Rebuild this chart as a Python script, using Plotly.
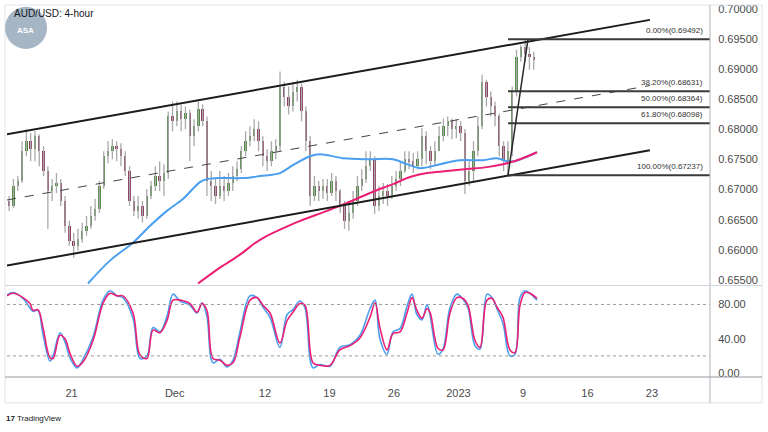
import plotly.graph_objects as go

# ---------------- DATA ----------------
# 8-hour candles; x axis = trading-day index (weekends removed), day 0 = 14 Nov 2022
first_open = 0.66811
close = [0.66728, 0.67058, 0.67141, 0.67636, 0.67801, 0.67669, 0.67883, 0.67636, 0.67306,
         0.66976, 0.67058, 0.67108, 0.66811, 0.66398, 0.66151, 0.66068, 0.66184, 0.66316,
         0.66398, 0.66563, 0.66679, 0.67058, 0.67553, 0.67636, 0.67718, 0.67669, 0.67553,
         0.67306, 0.66811, 0.66646, 0.66728, 0.66563, 0.66893, 0.67058, 0.67223, 0.67141,
         0.67273, 0.68213, 0.68131, 0.68296, 0.68164, 0.68263, 0.67883, 0.68048, 0.68328,
         0.68131, 0.67141, 0.67058, 0.66893, 0.67058, 0.66976, 0.67108, 0.67223, 0.67338,
         0.67636, 0.67801, 0.67883, 0.67999, 0.67801, 0.67553, 0.67471, 0.67636, 0.67718,
         0.68708, 0.68543, 0.68378, 0.68625, 0.68708, 0.68296, 0.67801, 0.66893, 0.67058,
         0.66976, 0.67058, 0.66943, 0.67141, 0.66976, 0.66728, 0.66481, 0.66613, 0.66811,
         0.67058, 0.67173, 0.67388, 0.67503, 0.66728, 0.66893, 0.66976, 0.66893, 0.67058,
         0.67173, 0.67306, 0.67503, 0.67471, 0.67388, 0.67503, 0.67883, 0.67636, 0.67471,
         0.67636, 0.67883, 0.68048, 0.68131, 0.67999, 0.68048, 0.67933, 0.67141, 0.67306,
         0.67636, 0.68048, 0.68790, 0.68543, 0.68378, 0.68213, 0.67718, 0.67471, 0.67636,
         0.68625, 0.69203, 0.69368, 0.69253, 0.69203, 0.69153]
high = [0.66893, 0.67173, 0.67223, 0.67801, 0.67999, 0.67933, 0.67966, 0.67916, 0.67718,
        0.67388, 0.67173, 0.67273, 0.67173, 0.66893, 0.66481, 0.66283, 0.66349, 0.66448,
        0.66563, 0.66728, 0.66843, 0.67141, 0.67636, 0.67801, 0.67834, 0.67801, 0.67768,
        0.67636, 0.67388, 0.66893, 0.66893, 0.66811, 0.67008, 0.67141, 0.67388, 0.67471,
        0.67421, 0.68296, 0.68461, 0.68461, 0.68411, 0.68378, 0.68328, 0.68164, 0.68461,
        0.68411, 0.68213, 0.67306, 0.67173, 0.67306, 0.67223, 0.67273, 0.67388, 0.67471,
        0.67718, 0.67966, 0.68048, 0.68164, 0.68131, 0.67883, 0.67669, 0.67801, 0.67834,
        0.68956, 0.68790, 0.68708, 0.68790, 0.68823, 0.68757, 0.68378, 0.67883, 0.67223,
        0.67141, 0.67173, 0.67173, 0.67273, 0.67223, 0.67008, 0.66811, 0.66811, 0.66976,
        0.67223, 0.67338, 0.67636, 0.67636, 0.67553, 0.67058, 0.67108, 0.67091, 0.67223,
        0.67306, 0.67471, 0.67636, 0.67636, 0.67603, 0.67636, 0.68015, 0.67966, 0.67718,
        0.67801, 0.68048, 0.68180, 0.68213, 0.68180, 0.68164, 0.68131, 0.67999, 0.67471,
        0.67801, 0.68213, 0.68906, 0.68823, 0.68625, 0.68461, 0.68263, 0.67801, 0.67801,
        0.68708, 0.69318, 0.69401, 0.69492, 0.69368, 0.69285]
low = [0.66646, 0.66695, 0.66976, 0.67108, 0.67553, 0.67471, 0.67471, 0.67388, 0.67223,
       0.66349, 0.66811, 0.66943, 0.66728, 0.66283, 0.66068, 0.65870, 0.65986, 0.66118,
       0.66233, 0.66349, 0.66481, 0.66613, 0.67008, 0.67438, 0.67503, 0.67471, 0.67388,
       0.67223, 0.66728, 0.66563, 0.66514, 0.66448, 0.66514, 0.66843, 0.66976, 0.66976,
       0.66893, 0.67173, 0.67966, 0.68048, 0.67966, 0.67999, 0.67471, 0.67718, 0.67966,
       0.68048, 0.66893, 0.66811, 0.66761, 0.66843, 0.66811, 0.66893, 0.66976, 0.67141,
       0.67273, 0.67553, 0.67718, 0.67801, 0.67636, 0.67388, 0.67306, 0.67388, 0.67503,
       0.67636, 0.68378, 0.68246, 0.68296, 0.68461, 0.68131, 0.67636, 0.66728, 0.66811,
       0.66811, 0.66843, 0.66811, 0.66893, 0.66811, 0.66613, 0.66349, 0.66316, 0.66514,
       0.66728, 0.66976, 0.67108, 0.67306, 0.66596, 0.66646, 0.66761, 0.66728, 0.66843,
       0.66976, 0.67058, 0.67273, 0.67338, 0.67273, 0.67338, 0.67388, 0.67421, 0.67338,
       0.67388, 0.67636, 0.67801, 0.67883, 0.67834, 0.67850, 0.67801, 0.66926, 0.67058,
       0.67141, 0.67553, 0.67999, 0.68378, 0.68213, 0.68048, 0.67553, 0.67306, 0.67237,
       0.67553, 0.68543, 0.69121, 0.69121, 0.68988, 0.68988]

# moving averages (blue ~100, pink ~200)
ma_blue_day = [6.28, 7.98, 9.77, 11.09, 12.40, 13.64, 14.96, 15.50, 16.28, 18.29, 19.61, 21.16,
               22.17, 23.49, 24.26, 26.05, 28.14, 29.92, 31.01, 32.02, 33.57, 35.12, 36.90,
               37.98, 38.76, 39.38, 40.0, 41.09]
ma_blue_val = [0.65441, 0.65821, 0.66118, 0.66398, 0.66646, 0.66843, 0.67124, 0.67173, 0.67190,
               0.67190, 0.67223, 0.67273, 0.67405, 0.67553, 0.67586, 0.67520, 0.67503, 0.67503,
               0.67421, 0.67355, 0.67421, 0.67487, 0.67487, 0.67520, 0.67471, 0.67471, 0.67520,
               0.67619]
ma_pink_day = [14.81, 16.51, 18.06, 19.61, 22.17, 24.81, 26.36, 28.14, 29.92, 31.24, 32.56,
               34.11, 35.66, 37.21, 38.45, 39.77, 41.09]
ma_pink_val = [0.65441, 0.65705, 0.65920, 0.66167, 0.66431, 0.66646, 0.66778, 0.66943, 0.67091,
               0.67207, 0.67273, 0.67306, 0.67339, 0.67372, 0.67421, 0.67503, 0.67619]

# stochastic oscillator
stoch_day = [0.00, 0.47, 1.24, 1.78, 2.02, 2.40, 2.79, 3.33, 3.57, 4.11, 4.50, 4.88, 5.43, 5.89,
             6.67, 7.44, 7.98, 8.53, 8.99, 9.77, 10.31, 10.85, 11.32, 11.86, 12.40, 12.87,
             13.41, 14.19, 14.73, 15.12, 15.50, 15.97, 16.51, 17.05, 17.52, 18.06, 18.84,
             19.38, 19.84, 20.39, 21.16, 21.71, 22.17, 22.71, 23.10, 23.72, 24.26, 25.04,
             25.81, 26.59, 27.36, 28.14, 28.53, 28.91, 29.46, 29.92, 30.47, 31.01, 31.40,
             31.78, 32.17, 32.56, 32.79, 33.41, 33.80, 34.34, 34.88, 35.35, 35.74, 36.28,
             36.67, 37.21, 37.60, 37.98, 38.45, 38.99, 39.38, 39.77, 40.16, 40.54, 41.09]
stoch_d = [90, 93, 88, 81, 73, 74, 53, 18, 17, 44, 40, 23, 8, 13, 38, 81, 93, 90, 90, 70, 21, 17,
           50, 47, 61, 85, 85, 81, 71, 81, 73, 17, 15, 9, 12, 42, 85, 88, 79, 70, 35, 61, 71, 81,
           79, 12, 9, 9, 27, 32, 41, 65, 82, 53, 27, 46, 48, 70, 88, 73, 64, 75, 71, 29, 27, 70,
           88, 87, 79, 38, 30, 85, 87, 77, 65, 27, 24, 79, 94, 93, 87]
stoch_k = [91, 94, 87, 76, 72, 73, 45, 14, 20, 47, 36, 18, 6, 16, 42, 85, 96, 90, 88, 64, 17, 20,
           53, 48, 66, 92, 84, 79, 70, 82, 66, 12, 16, 7, 15, 48, 90, 88, 77, 65, 30, 68, 74, 84,
           76, 6, 10, 8, 30, 33, 44, 75, 85, 40, 22, 48, 52, 78, 92, 68, 62, 80, 68, 22, 28, 76,
           92, 86, 76, 32, 28, 92, 88, 75, 58, 20, 22, 88, 96, 93, 85]

# drawings
channel_upper = [(0.0, 0.67916), (49.84, 0.69814)]
channel_lower = [(0.0, 0.65738), (49.84, 0.67652)]
channel_mid = [(0.0, 0.66827), (49.84, 0.68725)]
fib_pct = [0.0, 38.2, 50.0, 61.8, 100.0]
fib_val = [0.69492, 0.68631, 0.68364, 0.68098, 0.67237]
fib_start_day = 38.84
fib_high_day = 40.39

price_ticks = [0.655, 0.660, 0.665, 0.670, 0.675, 0.680, 0.685, 0.690, 0.695, 0.700]
stoch_ticks = [0, 40, 80]
x_tick_days = [5, 13, 20, 25, 30, 35, 40, 45, 50]
x_tick_text = ["21", "Dec", "12", "19", "26", "2023", "9", "16", "23"]

# ---------------- FIGURE ----------------
FONT = "Liberation Sans, Arial, sans-serif"
X_RANGE = [0, 54.5]
GREEN = "#4c8a3e"
MAROON = "#8e3b5f"

n = len(close)
open_ = [first_open] + close[:-1]
bar_x = [i / 3 + 1 / 6 for i in range(n)]

fig = go.Figure()

wx, wy = [], []
for xi, lo, hi in zip(bar_x, low, high):
    wx += [xi, xi, None]
    wy += [lo, hi, None]
fig.add_trace(go.Scatter(x=wx, y=wy, mode="lines", line=dict(color="#a9a9a9", width=1.3),
                         hoverinfo="skip", showlegend=False, xaxis="x", yaxis="y"))

base = [min(o, c) for o, c in zip(open_, close)]
height = [max(abs(c - o), 0.00006) for o, c in zip(open_, close)]
colors = [GREEN if c >= o else MAROON for o, c in zip(open_, close)]
fig.add_trace(go.Bar(x=bar_x, y=height, base=base, width=0.18, marker=dict(color=colors, line=dict(width=0)),
                     showlegend=False, xaxis="x", yaxis="y"))

fig.add_trace(go.Scatter(x=ma_blue_day, y=ma_blue_val, mode="lines",
                         line=dict(color="#4a9ff0", width=2, shape="spline"), showlegend=False,
                         xaxis="x", yaxis="y"))
fig.add_trace(go.Scatter(x=ma_pink_day, y=ma_pink_val, mode="lines",
                         line=dict(color="#ec1f74", width=2, shape="spline"), showlegend=False,
                         xaxis="x", yaxis="y"))

fig.add_trace(go.Scatter(x=stoch_day, y=stoch_k, mode="lines",
                         line=dict(color="#4a9ff0", width=1.6, shape="spline"), showlegend=False,
                         xaxis="x2", yaxis="y2"))
fig.add_trace(go.Scatter(x=stoch_day, y=stoch_d, mode="lines",
                         line=dict(color="#ec1f74", width=1.6, shape="spline"), showlegend=False,
                         xaxis="x2", yaxis="y2"))

shapes = []
for seg, dash, w, col in [(channel_upper, "solid", 2, "#1b1b1b"), (channel_lower, "solid", 2, "#1b1b1b"),
                          (channel_mid, "dash", 1, "#444444")]:
    shapes.append(dict(type="line", xref="x", yref="y", x0=seg[0][0], y0=seg[0][1],
                       x1=seg[1][0], y1=seg[1][1], line=dict(color=col, width=w, dash=dash)))
for v in fib_val:
    shapes.append(dict(type="line", xref="x", yref="y", x0=fib_start_day, x1=X_RANGE[1], y0=v, y1=v,
                       line=dict(color="#3a3a3a", width=2)))
shapes.append(dict(type="line", xref="x", yref="y", x0=fib_start_day, y0=fib_val[-1],
                   x1=fib_high_day, y1=fib_val[0], line=dict(color="#2a2a2a", width=1.5)))
for lvl in [80, 20]:
    shapes.append(dict(type="line", xref="x2", yref="y2", x0=X_RANGE[0], x1=X_RANGE[1], y0=lvl, y1=lvl,
                       line=dict(color="#9a9a9a", width=1, dash="dot")))
# frame lines (paper coords)
shapes += [
    dict(type="rect", xref="paper", yref="paper", x0=-0.0028, x1=1.074, y0=-0.0695, y1=1.0,
         line=dict(color="#e0e3eb", width=1)),
    dict(type="line", xref="paper", yref="paper", x0=1.0, x1=1.0, y0=-0.0695, y1=1.0,
         line=dict(color="#b2b5be", width=1)),
    dict(type="line", xref="paper", yref="paper", x0=-0.0028, x1=1.074, y0=0.0, y1=0.0,
         line=dict(color="#9598a1", width=1)),
    dict(type="line", xref="paper", yref="paper", x0=-0.0028, x1=1.074, y0=0.246, y1=0.246,
         line=dict(color="#d1d4dc", width=1)),
    dict(type="circle", xref="paper", yref="paper", x0=-0.0028, x1=0.0569, y0=0.882, y1=0.995,
         fillcolor="#a7b6c5", line=dict(width=0), layer="above"),
]

annotations = []
for p, v in zip(fib_pct, fib_val):
    annotations.append(dict(xref="x", yref="y", x=54.1, y=v, xanchor="right", yanchor="bottom",
                            yshift=2, showarrow=False, text=f"{p:.2f}%({v:.5f})",
                            font=dict(family=FONT, size=8, color="#333333")))
annotations += [
    dict(xref="paper", yref="paper", x=0.027, y=0.932, xanchor="center", yanchor="middle",
         showarrow=False, text="<b>ASA</b>", font=dict(family=FONT, size=8, color="white")),
    dict(xref="paper", yref="paper", x=0.0071, y=0.976, xanchor="left", yanchor="middle",
         showarrow=False, text="AUD/USD: 4-hour", font=dict(family=FONT, size=10, color="#131722")),
    dict(xref="paper", yref="paper", x=-0.004, y=-0.112, xanchor="left", yanchor="middle",
         showarrow=False, text="<b>17</b> TradingView", font=dict(family=FONT, size=8, color="#131722")),
]

fig.update_layout(
    width=768, height=432, margin=dict(l=7, r=58, t=3, b=55),
    paper_bgcolor="white", plot_bgcolor="white", showlegend=False, bargap=0,
    font=dict(family=FONT, size=11, color="#4a4a4a"),
    shapes=shapes, annotations=annotations, hovermode=False,
    xaxis=dict(domain=[0, 1], anchor="y", range=X_RANGE, showgrid=False, zeroline=False,
               showticklabels=False, showline=False),
    xaxis2=dict(domain=[0, 1], anchor="y2", range=X_RANGE, showgrid=False, zeroline=False,
                showline=False, tickmode="array", tickvals=x_tick_days, ticktext=x_tick_text,
                ticks="outside", ticklen=6, tickcolor="rgba(0,0,0,0)",
                tickfont=dict(family=FONT, size=11, color="#4a4a4a")),
    yaxis=dict(domain=[0.248, 1], anchor="x", side="right", range=[0.65421, 0.70061],
               showgrid=False, zeroline=False, showline=False, tickmode="array",
               tickvals=price_ticks, ticktext=[f"{t:.5f}" for t in price_ticks],
               ticks="outside", ticklen=5, tickcolor="rgba(0,0,0,0)"),
    yaxis2=dict(domain=[0, 0.243], anchor="x2", side="right", range=[-4.6, 100.8],
                showgrid=False, zeroline=False, showline=False, tickmode="array",
                tickvals=stoch_ticks, ticktext=[f"{t:.2f}" for t in stoch_ticks],
                ticks="outside", ticklen=5, tickcolor="rgba(0,0,0,0)"),
)

fig.write_html("out.html")
